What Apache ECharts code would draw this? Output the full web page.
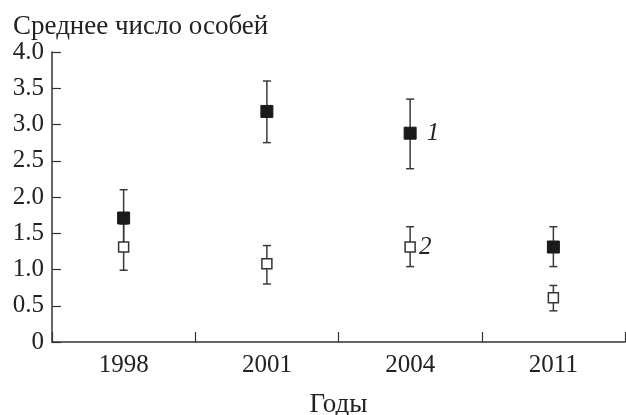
<!DOCTYPE html>
<html><head><meta charset="utf-8">
<script src="https://cdn.jsdelivr.net/npm/echarts@6/dist/echarts.min.js"></script>
<style>html,body{margin:0;padding:0;background:#fff}#c{width:626px;height:415px}</style>
</head><body><div id="c"></div>
<script>
const years = ['1998', '2001', '2004', '2011'];
const mean1 = [1.71, 3.18, 2.88, 1.31];
const low1  = [1.32, 2.75, 2.39, 1.04];
const high1 = [2.10, 3.60, 3.35, 1.59];
const mean2 = [1.31, 1.08, 1.31, 0.61];
const low2  = [0.99, 0.80, 1.04, 0.43];
const high2 = [1.63, 1.33, 1.59, 0.78];
const seriesLabels = ['1', '2'];
const yTicks = [0, 0.5, 1, 1.5, 2, 2.5, 3, 3.5, 4];

const FONT = 'Liberation Serif';
const chart = echarts.init(document.getElementById('c'));

function errData(low, high) { return years.map((y, i) => [i, low[i], high[i]]); }
function errRender(params, api) {
  const x = api.value(0);
  const lo = api.coord([x, api.value(1)]);
  const hi = api.coord([x, api.value(2)]);
  const w = 4;
  const st = { stroke: '#3a3a3a', lineWidth: 1.5 };
  return { type: 'group', children: [
    { type: 'line', shape: { x1: lo[0], y1: lo[1], x2: hi[0], y2: hi[1] }, style: st },
    { type: 'line', shape: { x1: lo[0]-w, y1: lo[1], x2: lo[0]+w, y2: lo[1] }, style: st },
    { type: 'line', shape: { x1: hi[0]-w, y1: hi[1], x2: hi[0]+w, y2: hi[1] }, style: st }
  ]};
}
function pts(vals, labelText) {
  return vals.map((v, i) => {
    const d = { value: [i, v] };
    if (i === 2) d.label = { show: true, formatter: labelText };
    return d;
  });
}

chart.setOption({
  animation: false,
  title: { text: 'Среднее число особей', left: 8, top: 8,
    textStyle: { fontFamily: FONT, fontSize: 27, fontWeight: 'normal', color: '#222' } },
  grid: { left: 52, top: 52, right: 1, bottom: 73, containLabel: false, outerBoundsMode: 'none' },
  xAxis: {
    type: 'category', data: years, boundaryGap: true,
    name: 'Годы', nameLocation: 'middle', nameGap: 49,
    nameTextStyle: { fontFamily: FONT, fontSize: 27, color: '#222' },
    axisLine: { lineStyle: { color: '#333', width: 1.5 } },
    axisTick: { show: true, inside: true, length: 10, interval: 0, lineStyle: { color: '#333', width: 1.2 } },
    axisLabel: { fontFamily: FONT, fontSize: 25, color: '#222', margin: 11 },
    splitLine: { show: false }
  },
  yAxis: {
    type: 'value', min: 0, max: 4, interval: 0.5,
    axisLine: { show: true, lineStyle: { color: '#333', width: 1.5 } },
    axisTick: { show: true, inside: true, length: 9, lineStyle: { color: '#333', width: 1.2 } },
    axisLabel: { fontFamily: FONT, fontSize: 25, color: '#222', margin: 8, padding: [5, 0, 0, 0],
      formatter: v => (v === 0 ? '0' : v.toFixed(1)) },
    splitLine: { show: false }
  },
  series: [
    { type: 'custom', renderItem: errRender, data: errData(low1, high1), z: 1 },
    { type: 'custom', renderItem: errRender, data: errData(low2, high2), z: 1 },
    { type: 'scatter', data: pts(mean1, seriesLabels[0]), symbol: 'rect', symbolSize: 12, z: 3,
      itemStyle: { color: '#1a1a1a', borderColor: '#1a1a1a', borderWidth: 1, opacity: 1 },
      label: { show: false, position: 'right', distance: 10, fontFamily: FONT, fontStyle: 'italic', fontSize: 25, color: '#222' } },
    { type: 'scatter', data: pts(mean2, seriesLabels[1]), symbol: 'rect', symbolSize: 10, z: 3,
      itemStyle: { color: '#fff', borderColor: '#333', borderWidth: 1.5, opacity: 1 },
      label: { show: false, position: 'right', distance: 3, fontFamily: FONT, fontStyle: 'italic', fontSize: 25, color: '#222' } }
  ]
});
</script></body></html>
